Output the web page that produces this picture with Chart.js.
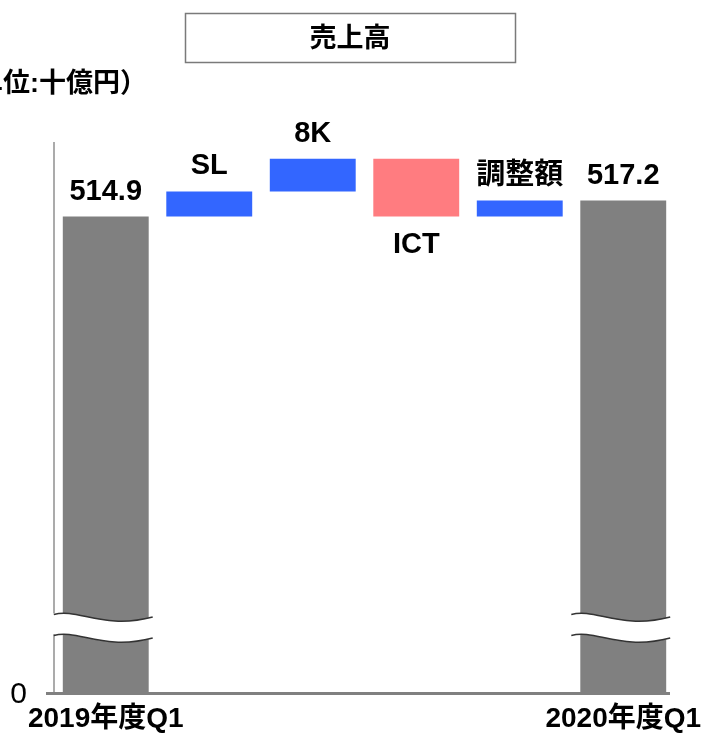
<!DOCTYPE html>
<html><head><meta charset="utf-8">
<script src="https://cdn.jsdelivr.net/npm/chart.js@4/dist/chart.umd.min.js"></script>
<style>html,body{margin:0;padding:0;background:#fff;}canvas{display:block;}</style>
</head><body>
<canvas id="c" width="702" height="735"></canvas>
<script>
// ---- data ----
const categories = ['2019年度Q1', 'SL', '8K', 'ICT', '調整額', '2020年度Q1'];
const tickLabels = ['2019年度Q1', '', '', '', '', '2020年度Q1'];
const barLabels = ['514.9', 'SL', '8K', 'ICT', '調整額', '517.2'];
const startTotal = 514.9;
const deltas = [3.6, 4.7, -8.3, 2.3];
const endTotal = 517.2;
const yTickLabels = ['0'];
const titleText = '売上高';
const unitText = '（単位:十億円）';

// ---- scale range (broken axis: bottom of axis is shown as 0) ----
const Y_MIN = 446.6;
const Y_MAX = 525.46;

const FONT = "'Liberation Sans', 'Noto Sans CJK JP', Arial, sans-serif";
const GRAY = '#808080', BLUE = '#3366FF', PINK = '#FF7C80';

// build floating bar ranges
const ranges = [];
const colors = [];
ranges.push([Y_MIN, startTotal]); colors.push(GRAY);
let run = startTotal;
deltas.forEach(d => {
  const next = Math.round((run + d) * 10) / 10;
  ranges.push([run, next]);
  colors.push(d >= 0 ? BLUE : PINK);
  run = next;
});
ranges.push([Y_MIN, endTotal]); colors.push(GRAY);

const decorPlugin = {
  id: 'decor',
  afterDatasetsDraw(chart) {
    const ctx = chart.ctx;
    const meta = chart.getDatasetMeta(0);
    const ca = chart.chartArea;
    // baseline
    ctx.save();
    ctx.fillStyle = GRAY;
    ctx.fillRect(ca.left - 8, ca.bottom, ca.right - ca.left + 3, 3);
    ctx.restore();
    // axis breaks on total bars
    [0, meta.data.length - 1].forEach(i => {
      const el = meta.data[i];
      const p = el.getProps(['x', 'width'], true);
      const L = p.x - p.width / 2, R = p.x + p.width / 2;
      const c = ca.bottom - 78, g = 21;
      ctx.save();
      ctx.fillStyle = '#fff';
      ctx.beginPath();
      ctx.moveTo(L - 14, c);
      ctx.bezierCurveTo(L + 15, c - 6, R - 45, c + 16, R + 5, c + 3);
      ctx.lineTo(R + 5, c + g + 3);
      ctx.bezierCurveTo(R - 45, c + g + 16, L + 15, c + g - 6, L - 14, c + g);
      ctx.closePath();
      ctx.fill();
      ctx.strokeStyle = '#333';
      ctx.lineWidth = 1.5;
      ctx.beginPath();
      ctx.moveTo(L - 9, c + 0.5);
      ctx.bezierCurveTo(L + 15, c - 6, R - 45, c + 16, R + 4, c + 3);
      ctx.stroke();
      ctx.beginPath();
      ctx.moveTo(L - 9, c + g + 0.5);
      ctx.bezierCurveTo(L + 15, c + g - 6, R - 45, c + g + 16, R + 4, c + g + 3);
      ctx.stroke();
      ctx.restore();
    });
    // bar labels
    ctx.save();
    ctx.fillStyle = '#000';
    ctx.font = 'bold 29px ' + FONT;
    ctx.textAlign = 'center';
    ctx.textBaseline = 'alphabetic';
    meta.data.forEach((el, i) => {
      const p = el.getProps(['x', 'y', 'base'], true);
      const top = Math.min(p.y, p.base), bottom = Math.max(p.y, p.base);
      const r = ranges[i];
      const neg = r[1] < r[0];
      if (neg) ctx.fillText(barLabels[i], p.x, bottom + 36);
      else ctx.fillText(barLabels[i], p.x, top - 17);
    });
    ctx.restore();
    // title box
    ctx.save();
    ctx.strokeStyle = '#7a7a7a';
    ctx.lineWidth = 1.5;
    ctx.strokeRect(185.5, 13.5, 330, 49);
    ctx.fillStyle = '#000';
    ctx.font = 'bold 27px ' + FONT;
    ctx.textAlign = 'center';
    ctx.textBaseline = 'middle';
    ctx.fillText(titleText, 350, 40);
    // unit text
    ctx.font = 'bold 27px ' + FONT;
    ctx.textAlign = 'left';
    ctx.fillText(unitText, -51, 85);
    ctx.restore();
  }
};

new Chart(document.getElementById('c'), {
  type: 'bar',
  data: {
    labels: categories,
    datasets: [{
      data: ranges,
      backgroundColor: colors,
      borderWidth: 0,
      categoryPercentage: 1,
      barPercentage: 0.83
    }]
  },
  options: {
    responsive: false,
    animation: false,
    events: [],
    layout: { padding: { top: 143, right: 27, left: 0, bottom: 0 } },
    plugins: { legend: { display: false }, tooltip: { enabled: false } },
    scales: {
      x: {
        grid: { display: false, drawTicks: false },
        border: { display: false },
        ticks: {
          autoSkip: false, maxRotation: 0, minRotation: 0,
          color: '#000', padding: 10,
          font: { size: 28, weight: 'bold', family: FONT },
          callback: (v, i) => tickLabels[i]
        },
        afterFit: s => { s.height = 43; s.paddingLeft = 0; s.paddingRight = 0; }
      },
      y: {
        min: Y_MIN, max: Y_MAX,
        grid: { display: false, drawTicks: false },
        border: { display: true, color: '#ababab', width: 2 },
        afterBuildTicks: s => { s.ticks = [{ value: Y_MIN }]; },
        ticks: {
          color: '#000', padding: 27, labelOffset: 3,
          font: { size: 30, family: FONT },
          callback: (v, i) => yTickLabels[i]
        },
        afterFit: s => { s.width = 54; s.paddingTop = 0; s.paddingBottom = 0; }
      }
    }
  },
  plugins: [decorPlugin]
});
</script>
</body></html>
